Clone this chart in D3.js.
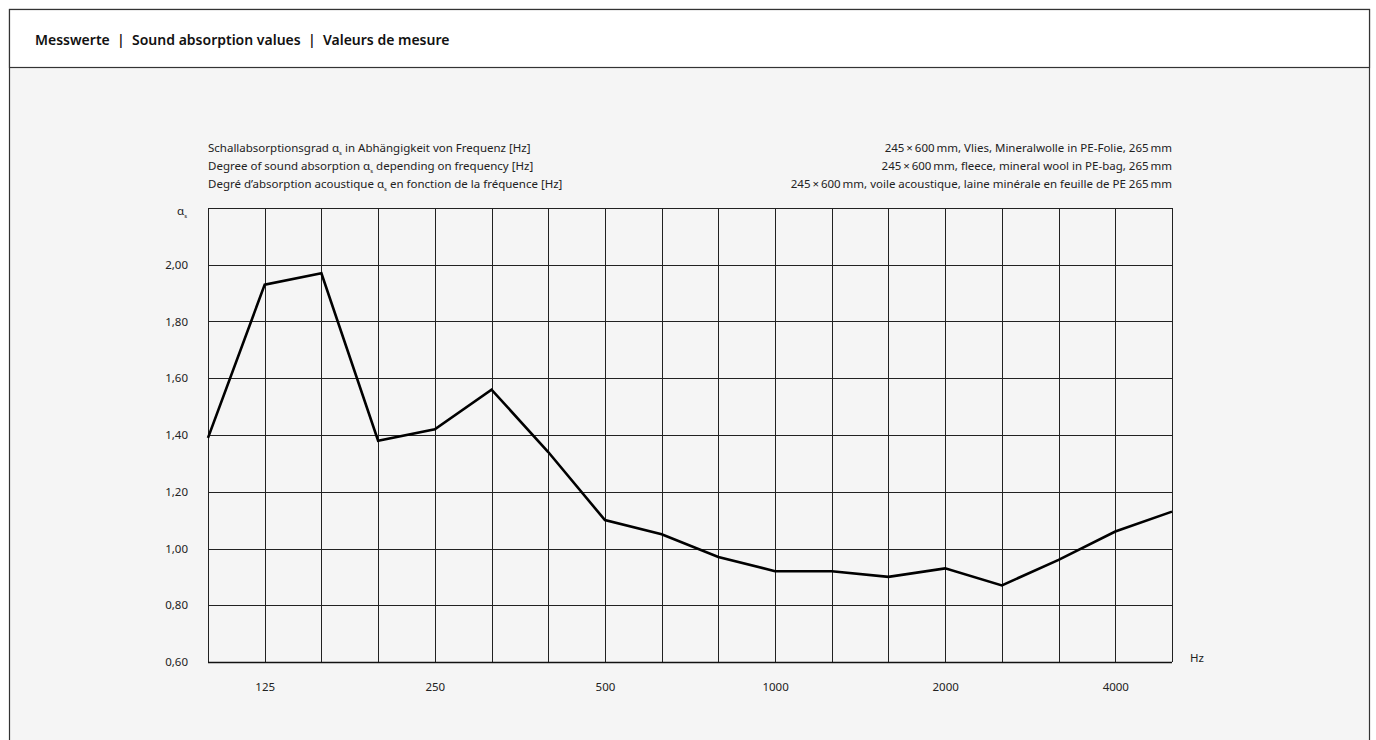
<!DOCTYPE html>
<html><head><meta charset="utf-8">
<script src="https://cdn.jsdelivr.net/npm/d3@7"></script>
<style>
html,body{margin:0;padding:0;background:#fff;}
svg{display:block;font-family:"Noto Sans",sans-serif;}
</style></head>
<body>
<svg id="c" width="1376" height="740"></svg>
<script>
const frequencies = ["100","125","160","200","250","315","400","500","630","800","1000","1250","1600","2000","2500","3150","4000","5000"];
const absorption = [1.39,1.93,1.97,1.38,1.42,1.56,1.34,1.10,1.05,0.97,0.92,0.92,0.90,0.93,0.87,0.96,1.06,1.13];
const xTickLabels = ["125","250","500","1000","2000","4000"];
const yTicks = [0.6,0.8,1.0,1.2,1.4,1.6,1.8,2.0];
const titleText = "Messwerte  |  Sound absorption values  |  Valeurs de mesure";
const leftLines = [
  ["Schallabsorptionsgrad ", "in Abhängigkeit von Frequenz [Hz]"],
  ["Degree of sound absorption ", "depending on frequency [Hz]"],
  ["Degré d’absorption acoustique ", "en fonction de la fréquence [Hz]"]
];
const rightLines = [
  "245\u2009×\u2009600\u2009mm, Vlies, Mineralwolle in PE-Folie, 265\u2009mm",
  "245\u2009×\u2009600\u2009mm, fleece, mineral wool in PE-bag, 265\u2009mm",
  "245\u2009×\u2009600\u2009mm, voile acoustique, laine minérale en feuille de PE 265\u2009mm"
];

const svg = d3.select("#c");
svg.append("rect").attr("x",9.5).attr("y",9.5).attr("width",1360).attr("height",760)
  .attr("fill","#f5f5f5").attr("stroke","#333").attr("stroke-width",1.2);
svg.append("rect").attr("x",9.5).attr("y",9.5).attr("width",1360).attr("height",58)
  .attr("fill","#fff").attr("stroke","#333").attr("stroke-width",1.2);
svg.append("text").attr("x",35).attr("y",45).attr("font-size",14).attr("font-weight",600)
  .attr("fill","#111").attr("xml:space","preserve").style("white-space","pre").text(titleText);

const L = 208, R = 1172, T = 208, B = 662;
const x = d3.scalePoint().domain(frequencies).range([L,R]);
const y = d3.scaleLinear().domain([0.6,2.2]).range([B,T]);

const g = svg.append("g");
const yGrid = d3.range(0.6, 2.21, 0.2);
g.selectAll(".hg").data(yGrid).join("line")
  .attr("x1",L).attr("x2",R).attr("y1",d=>Math.round(y(d))+0.5).attr("y2",d=>Math.round(y(d))+0.5)
  .attr("stroke","#222").attr("stroke-width",1);
g.selectAll(".vg").data(frequencies).join("line")
  .attr("y1",T).attr("y2",B).attr("x1",d=>Math.round(x(d))+0.5).attr("x2",d=>Math.round(x(d))+0.5)
  .attr("stroke","#222").attr("stroke-width",1);
g.append("line").attr("x1",L).attr("x2",R).attr("y1",B+0.5).attr("y2",B+0.5).attr("stroke","#111").attr("stroke-width",1.5);

const yAxis = d3.axisLeft(y).tickValues(yTicks).tickSize(0).tickPadding(20)
  .tickFormat(d=>d3.format(".2f")(d).replace(".",","));
const ya = svg.append("g").attr("transform",`translate(${L},0)`).call(yAxis);
ya.select(".domain").remove();
ya.selectAll("text").attr("font-size",11.5).attr("fill","#222").attr("font-family","Noto Sans, sans-serif");

const xAxis = d3.axisBottom(x).tickValues(xTickLabels).tickSize(0).tickPadding(21);
const xa = svg.append("g").attr("transform",`translate(0,${B})`).call(xAxis);
xa.select(".domain").remove();
xa.selectAll("text").attr("font-size",11.5).attr("fill","#222").attr("font-family","Noto Sans, sans-serif");

svg.append("text").attr("x",1190).attr("y",662).attr("font-size",11.5).attr("fill","#222").text("Hz");
const al = svg.append("text").attr("x",177).attr("y",215).attr("font-size",11.5).attr("fill","#222");
al.append("tspan").text("α");
al.append("tspan").attr("font-size",6).attr("dy",3).text("s");

leftLines.forEach((p,i)=>{
  const t = svg.append("text").attr("x",L).attr("y",152+i*18).attr("font-size",11.5).attr("fill","#222");
  t.append("tspan").text(p[0]);
  t.append("tspan").text("α");
  t.append("tspan").attr("font-size",6).attr("dy",3).text("s");
  t.append("tspan").attr("dy",-3).text(" "+p[1]);
});
rightLines.forEach((s,i)=>{
  svg.append("text").attr("x",R).attr("y",152+i*18).attr("font-size",11.5).attr("fill","#222")
    .attr("text-anchor","end").text(s);
});

const line = d3.line().x((d,i)=>x(frequencies[i])).y(d=>y(d));
svg.append("path").datum(absorption).attr("d",line).attr("fill","none")
  .attr("stroke","#000").attr("stroke-width",2.6).attr("stroke-linejoin","miter");
</script>
</body></html>
